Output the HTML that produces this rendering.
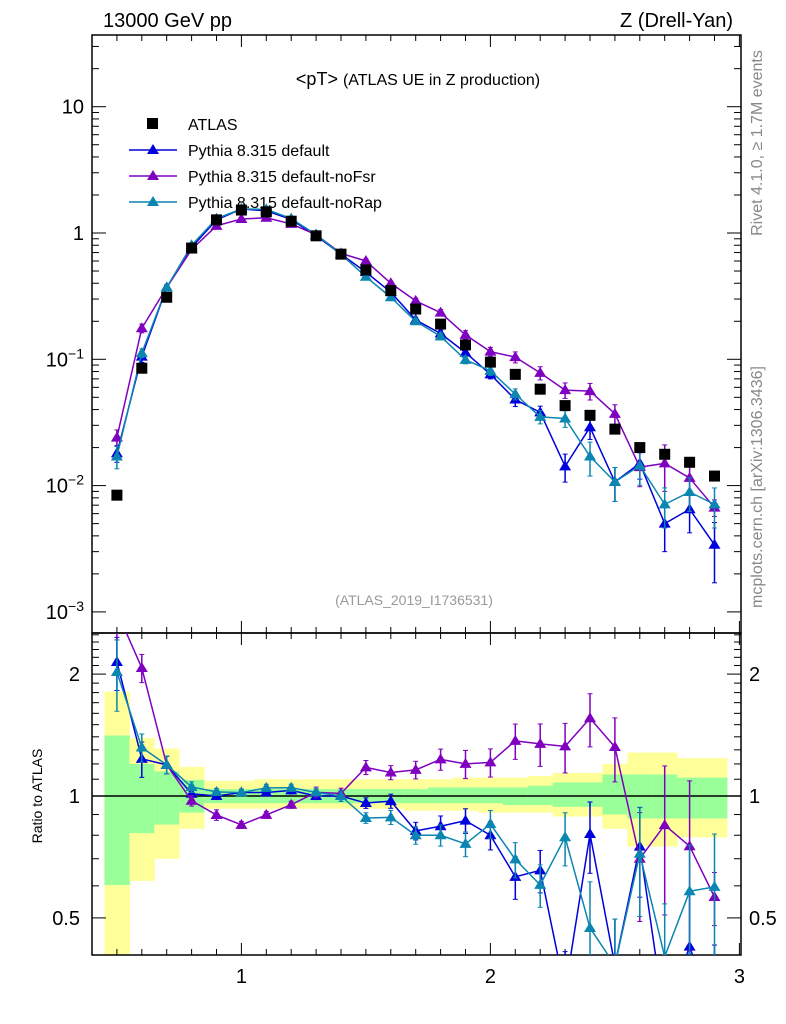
<!DOCTYPE html>
<html><head><meta charset="utf-8"><style>
html,body{margin:0;padding:0;background:#fff;width:786px;height:1024px;overflow:hidden;}
svg{display:block;font-family:"Liberation Sans",sans-serif;}
</style></head><body>
<svg id="c" width="786" height="1024" viewBox="0 0 786 1024"></svg>
<script>
const xCats=[0.5,0.6,0.7,0.8,0.9,1.0,1.1,1.2,1.3,1.4,1.5,1.6,1.7,1.8,1.9,2.0,2.1,2.2,2.3,2.4,2.5,2.6,2.7,2.8,2.9];
const atlasVals=[0.0084,0.085,0.31,0.76,1.27,1.52,1.47,1.24,0.95,0.68,0.51,0.35,0.25,0.19,0.13,0.095,0.076,0.058,0.043,0.036,0.028,0.020,0.0177,0.0153,0.0119];
const defVals=[0.018,0.105,0.37,0.77,1.27,1.55,1.5,1.28,0.95,0.68,0.49,0.34,0.205,0.16,0.113,0.076,0.048,0.038,0.0142,0.029,0.0107,0.015,0.005,0.0065,0.0034];
const fsrVals=[0.024,0.176,0.37,0.74,1.14,1.29,1.32,1.18,0.97,0.69,0.6,0.4,0.29,0.234,0.156,0.115,0.104,0.078,0.057,0.056,0.037,0.014,0.015,0.0115,0.0067];
const rapVals=[0.017,0.112,0.37,0.8,1.3,1.55,1.54,1.3,0.97,0.68,0.45,0.31,0.2,0.152,0.099,0.081,0.053,0.035,0.034,0.017,0.0107,0.0144,0.0071,0.0089,0.0071];
const defErr=[0.15,0.1,0.05,0.03,0.02,0.02,0.02,0.02,0.02,0.03,0.03,0.04,0.05,0.06,0.07,0.08,0.12,0.12,0.25,0.2,0.3,0.25,0.4,0.35,0.5];
const fsrErr=[0.15,0.08,0.05,0.03,0.03,0.02,0.02,0.02,0.03,0.03,0.04,0.04,0.05,0.06,0.08,0.08,0.1,0.12,0.14,0.15,0.18,0.3,0.4,0.45,0.15];
const rapErr=[0.2,0.08,0.05,0.03,0.02,0.02,0.02,0.02,0.02,0.03,0.03,0.04,0.05,0.06,0.07,0.08,0.1,0.12,0.15,0.3,0.3,0.3,0.35,0.3,0.35];
const yelLo=[0.3,0.617,0.70,0.83,0.93,0.93,0.93,0.93,0.93,0.93,0.93,0.93,0.92,0.92,0.92,0.91,0.91,0.91,0.89,0.89,0.83,0.75,0.75,0.79,0.79];
const yelHi=[1.81,1.39,1.31,1.18,1.09,1.09,1.1,1.1,1.1,1.1,1.1,1.1,1.1,1.1,1.11,1.11,1.11,1.12,1.14,1.14,1.2,1.28,1.28,1.24,1.24];
const grnLo=[0.603,0.81,0.85,0.91,0.96,0.96,0.96,0.96,0.96,0.96,0.96,0.96,0.96,0.96,0.96,0.96,0.95,0.95,0.94,0.94,0.9,0.88,0.88,0.88,0.88];
const grnHi=[1.41,1.2,1.15,1.095,1.04,1.04,1.04,1.04,1.04,1.04,1.04,1.04,1.04,1.05,1.05,1.05,1.05,1.06,1.08,1.08,1.13,1.13,1.13,1.11,1.11];
const yTickLabels=["10","1","10\u207B\u00B9","10\u207B\u00B2","10\u207B\u00B3"];

const NS="http://www.w3.org/2000/svg";
const svg=document.getElementById('c');
const L=92,R=741,T=35,M=633,B=955;
const X=v=>L+(v-0.4)*249;
const Y=v=>233-Math.log10(v)*126.3;
const RY=v=>796-Math.log10(v)*405;
const clamp=(y,a,b)=>Math.min(Math.max(y,a),b);
function el(tag,attrs,parent){const e=document.createElementNS(NS,tag);for(const k in attrs)e.setAttribute(k,attrs[k]);(parent||svg).appendChild(e);return e;}
function txt(s,x,y,attrs,parent){const e=el('text',Object.assign({x:x,y:y,'font-size':20},attrs),parent);e.textContent=s;return e;}

const defs=el('defs',{});
const cp1=el('clipPath',{id:'cm'},defs);el('rect',{x:L,y:T,width:R-L,height:M-T},cp1);
const cp2=el('clipPath',{id:'cr'},defs);el('rect',{x:L,y:M,width:R-L,height:B-M},cp2);

const bands=el('g',{'clip-path':'url(#cr)'});


xCats.forEach((c,i)=>{
  const x0=X(c-0.05),x1=X(c+0.05);
  const yt=clamp(RY(yelHi[i]),M,B),yb=clamp(RY(yelLo[i]),M,B);
  const ry=el('rect',{x:x0,y:yt,width:x1-x0+0.5,height:yb-yt,fill:'#ffff99'},bands);
  
  
  const gt=clamp(RY(grnHi[i]),M,B),gb=clamp(RY(grnLo[i]),M,B);
  const rg=el('rect',{x:x0,y:gt,width:x1-x0+0.5,height:gb-gt,fill:'#99ff99'},bands);
  
  
});
el('line',{x1:L,x2:R,y1:RY(1),y2:RY(1),stroke:'#000','stroke-width':1.5},bands);

el('rect',{x:L,y:T,width:R-L,height:M-T,fill:'none',stroke:'#000','stroke-width':1.5});
el('rect',{x:L,y:M,width:R-L,height:B-M,fill:'none',stroke:'#000','stroke-width':1.5});

for(let k=4;k<=30;k++){
  const v=k/10,x=X(v),maj=(k%10===0),len=maj?12:6;
  [T,M].forEach(y0=>el('line',{x1:x,x2:x,y1:y0,y2:y0+len,stroke:'#000'}));
  [M,B].forEach(y0=>el('line',{x1:x,x2:x,y1:y0,y2:y0-len,stroke:'#000'}));
}
["1","2","3"].forEach((s,i)=>{const t=txt(s,X(i+1),983,{'text-anchor':'middle'});});

for(let d=-3;d<=1;d++){
  for(let m=1;m<=9;m++){
    const v=m*Math.pow(10,d),y=Y(v);
    if(y<T||y>M)continue;
    const len=m===1?14:7;
    el('line',{x1:L,x2:L+len,y1:y,y2:y,stroke:'#000'});
    el('line',{x1:R,x2:R-len,y1:y,y2:y,stroke:'#000'});
  }
}
yTickLabels.forEach((s,i)=>{
  const v=Math.pow(10,1-i);
  const t=txt('',84,Y(v)+7,{'text-anchor':'end'});
  
  
  if(i<2){t.textContent=s;}else{
    const a=el('tspan',{},t);a.textContent='10';
    const b=el('tspan',{dy:-8,'font-size':14},t);b.textContent='\u2212'+(i-1);
  }
});
for(let k=4;k<=25;k++){
  const v=k/10,y=RY(v);if(y<M||y>B)continue;
  const maj=(k===5||k===10||k===20),len=maj?14:7;
  el('line',{x1:L,x2:L+len,y1:y,y2:y,stroke:'#000'});
  el('line',{x1:R,x2:R-len,y1:y,y2:y,stroke:'#000'});
}
[["2",2],["1",1],["0.5",0.5]].forEach(([s,v])=>{
  let t=txt(s,80,RY(v)+7,{'text-anchor':'end'});
  t=txt(s,749,RY(v)+7,{});
});

function series(vals,errs,color,name,mainClip,ratio){
  const g=el('g',{'clip-path':mainClip});
  
  
  const top=ratio?M:T,bot=ratio?B:M;
  const yf=ratio?(i=>RY(vals[i]/atlasVals[i])):(i=>Y(vals[i]));
  const yv=ratio?(i=>vals[i]/atlasVals[i]):(i=>vals[i]);
  const sc=ratio?RY:Y;
  // line clipped via segment-wise clamp-free polyline but bounded
  const pts=xCats.map((c,i)=>[X(c),yf(i)]);
  let d='';
  for(let i=0;i<pts.length-1;i++){
    let [x1,y1]=pts[i],[x2,y2]=pts[i+1];
    // clip segment to [top-10,bot+10]
    const lo=top-10,hi=bot+10;
    const cl=(xa,ya,xb,yb)=>{
      if(ya<lo){xa=xa+(xb-xa)*(lo-ya)/(yb-ya);ya=lo;}
      if(ya>hi){xa=xa+(xb-xa)*(hi-ya)/(yb-ya);ya=hi;}
      return [xa,ya];
    };
    if((y1<lo&&y2<lo)||(y1>hi&&y2>hi))continue;
    [x1,y1]=cl(x1,y1,x2,y2);[x2,y2]=cl(x2,y2,x1,y1);
    d+=`M${x1},${y1}L${x2},${y2}`;
  }
  el('path',{d:d,fill:'none',stroke:color,'stroke-width':1.5},g);
  xCats.forEach((c,i)=>{
    const x=X(c),v=yv(i),e=errs[i];
    const y1=clamp(sc(v*(1+e)),top-10,bot+10),y2=clamp(sc(Math.max(v*(1-e),1e-6)),top-10,bot+10);
    el('line',{x1:x,x2:x,y1:y1,y2:y2,stroke:color,'stroke-width':1.5},g);
    el('line',{x1:x-2.5,x2:x+2.5,y1:y1,y2:y1,stroke:color},g);
    el('line',{x1:x-2.5,x2:x+2.5,y1:y2,y2:y2,stroke:color},g);
    const y=yf(i);
    if(y<top-10||y>bot+10)return;
    const p=el('polygon',{points:`${x},${y-6} ${x-6},${y+4} ${x+6},${y+4}`,fill:color},g);
    
    
  });
}
const cols={def:'#0000dd',fsr:'#7f00bf',rap:'#0a86b0'};
series(defVals,defErr,cols.def,'pythia-default','url(#cm)',false);
series(fsrVals,fsrErr,cols.fsr,'pythia-nofsr','url(#cm)',false);
series(rapVals,rapErr,cols.rap,'pythia-norap','url(#cm)',false);
const ag=el('g',{'clip-path':'url(#cm)'});


xCats.forEach((c,i)=>{
  const r=el('rect',{x:X(c)-5.5,y:Y(atlasVals[i])-5.5,width:11,height:11,fill:'#000'},ag);
  
  
});
series(defVals,defErr,cols.def,'ratio-default','url(#cr)',true);
series(fsrVals,fsrErr,cols.fsr,'ratio-nofsr','url(#cr)',true);
series(rapVals,rapErr,cols.rap,'ratio-norap','url(#cr)',true);

const lg=el('g',{});


el('rect',{x:147,y:118,width:11,height:11,fill:'#000'},lg);
txt('ATLAS',188,130,{'font-size':16},lg);
[['Pythia 8.315 default',cols.def,150],['Pythia 8.315 default-noFsr',cols.fsr,176],['Pythia 8.315 default-noRap',cols.rap,202]].forEach(([s,c,y])=>{
  const e=el('g',{},lg);
  
  
  el('line',{x1:129,x2:177,y1:y,y2:y,stroke:c,'stroke-width':1.5},e);
  el('polygon',{points:`153,${y-6} 147,${y+4} 159,${y+4}`,fill:c},e);
  txt(s,188,y+6,{'font-size':16},e);
});

let t;
t=txt('13000 GeV pp',103,27,{});
t=txt('Z (Drell-Yan)',733,27,{'text-anchor':'end'});
t=txt('',418,85,{'text-anchor':'middle','font-size':18});
{const a=el('tspan',{},t);a.textContent='<pT> ';const b=el('tspan',{'font-size':16},t);b.textContent='(ATLAS UE in Z production)';}
t=txt('(ATLAS_2019_I1736531)',414,605,{'text-anchor':'middle','font-size':14,fill:'#999'});
t=txt('Ratio to ATLAS',42,796,{'text-anchor':'middle','font-size':14,transform:'rotate(-90 42 796)'});
t=txt('Rivet 4.1.0, \u2265 1.7M events',762,143,{'text-anchor':'middle','font-size':16,fill:'#888',transform:'rotate(-90 762 143)'});
t=txt('mcplots.cern.ch [arXiv:1306.3436]',762,487,{'text-anchor':'middle','font-size':16,fill:'#888',transform:'rotate(-90 762 487)'});
</script>
</body></html>
